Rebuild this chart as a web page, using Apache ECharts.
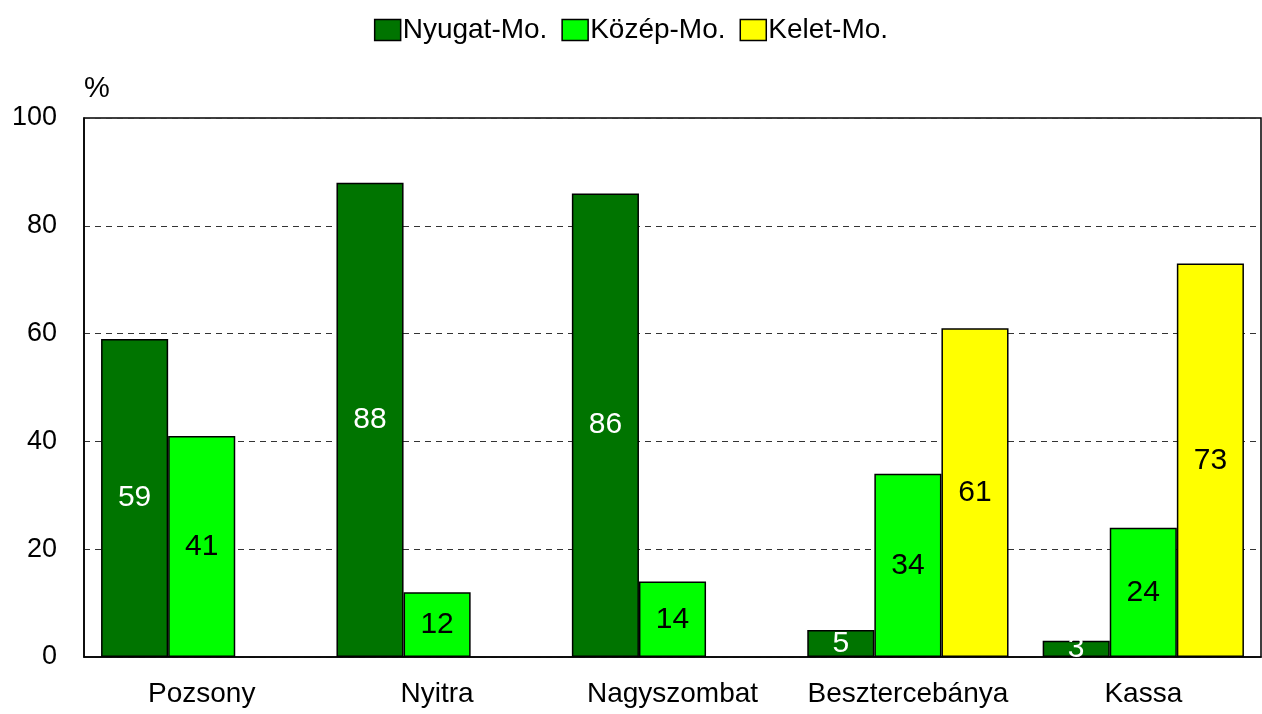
<!DOCTYPE html>
<html>
<head>
<meta charset="utf-8">
<script src="https://cdn.jsdelivr.net/npm/echarts@6/dist/echarts.min.js"></script>
<style>
  html, body { margin: 0; padding: 0; background: #fff; }
  #chart { width: 1262px; height: 714px; }
</style>
</head>
<body>
<div id="chart"></div>
<script>
const categories = ["Pozsony", "Nyitra", "Nagyszombat", "Besztercebánya", "Kassa"];
const seriesNames = ["Nyugat-Mo.", "Közép-Mo.", "Kelet-Mo."];
const nyugat = [59, 88, 86, 5, 3];
const kozep = [41, 12, 14, 34, 24];
const kelet = [null, null, null, 61, 73];
const colors = ["#007400", "#00ff00", "#ffff00"];
const labelColors = ["#fff", "#000", "#000"];

const font = "Arial, 'Liberation Sans', sans-serif";

const chart = echarts.init(document.getElementById("chart"));

const series = [nyugat, kozep, kelet].map((data, i) => ({
  name: seriesNames[i],
  type: "bar",
  data: data,
  barGap: "0%",
  barCategoryGap: "14.5%",
  itemStyle: { color: colors[i], borderColor: "#000", borderWidth: 1.5 },
  label: {
    show: true,
    position: "inside",
    color: labelColors[i],
    fontFamily: font,
    fontSize: 30
  }
}));

chart.setOption({
  animation: false,
  backgroundColor: "#fff",
  legend: {
    top: 11,
    left: "center",
    itemWidth: 26,
    itemHeight: 21,
    itemGap: 14,
    textStyle: { fontFamily: font, fontSize: 28, color: "#000", padding: [0, 0, 0, -3] },
    data: seriesNames.map((n, i) => ({
      name: n,
      icon: "rect",
      itemStyle: { color: colors[i], borderColor: "#000", borderWidth: 1.5 }
    }))
  },
  grid: {
    left: 84,
    right: 1,
    top: 118,
    bottom: 57,
    show: true,
    borderColor: "#000",
    borderWidth: 1.5,
    containLabel: false
  },
  xAxis: {
    type: "category",
    data: categories,
    axisLine: { lineStyle: { color: "#000", width: 1.5 } },
    axisTick: { show: false },
    axisLabel: { interval: 0, fontFamily: font, fontSize: 28, color: "#000", margin: 23 }
  },
  yAxis: {
    type: "value",
    min: 0,
    max: 100,
    interval: 20,
    name: "%",
    nameLocation: "end",
    nameGap: 15,
    nameTextStyle: { fontFamily: font, fontSize: 29, color: "#000", align: "left" },
    axisLine: { show: true, lineStyle: { color: "#000", width: 1.5 } },
    axisTick: { show: false },
    axisLabel: { fontFamily: font, fontSize: 27, color: "#000", margin: 27 },
    splitLine: { lineStyle: { color: "#333", type: [6, 5], width: 1 } }
  },
  series: series
});

window.addEventListener("resize", () => chart.resize());
</script>
</body>
</html>
